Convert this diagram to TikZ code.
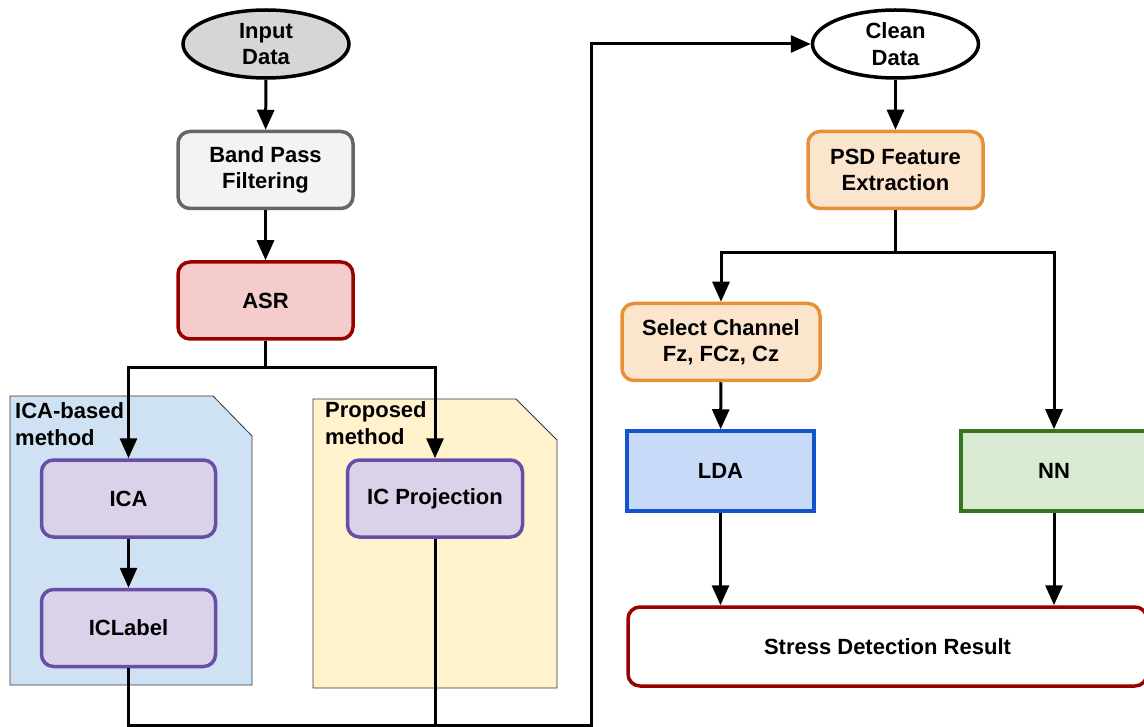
\documentclass[tikz,border=0pt]{standalone}
\usepackage{fontspec}
\setmainfont{Liberation Sans}
\usetikzlibrary{arrows.meta,shapes.geometric}

\definecolor{inputfill}{HTML}{D6D6D6}
\definecolor{bpffill}{HTML}{F3F3F3}
\definecolor{bpfline}{HTML}{666666}
\definecolor{redfill}{HTML}{F4CCCC}
\definecolor{redline}{HTML}{990000}
\definecolor{bluedoc}{HTML}{CFE2F3}
\definecolor{yellowdoc}{HTML}{FFF2CC}
\definecolor{docline}{HTML}{333333}
\definecolor{purplefill}{HTML}{D9D2E9}
\definecolor{purpleline}{HTML}{674EA7}
\definecolor{orangefill}{HTML}{FCE5CD}
\definecolor{orangeline}{HTML}{E69138}
\definecolor{ldafill}{HTML}{C9DAF8}
\definecolor{ldaline}{HTML}{1155CC}
\definecolor{nnfill}{HTML}{D9EAD3}
\definecolor{nnline}{HTML}{38761D}

\tikzset{
  txt/.style={font=\fontsize{22}{26.5}\selectfont\bfseries, align=center, inner sep=0pt},
  terminal/.style={txt, ellipse, draw=black, line width=3.5pt, minimum width=166pt, minimum height=68pt},
  roundbox/.style={txt, rectangle, rounded corners=12pt, line width=3.5pt, minimum height=77pt},
  sharpbox/.style={txt, rectangle, line width=3.5pt, minimum height=80pt},
  doclabel/.style={font=\fontsize{22}{27}\selectfont\bfseries, align=left, inner sep=0pt, anchor=north west},
  docshape/.style={draw=docline, line width=0.8pt},
  link/.style={line width=3pt, draw=black},
  arr/.style={link, -{Triangle[length=20pt,width=17pt]}},
}

\begin{document}
\begin{tikzpicture}[x=1pt,y=-1pt]
  \path[use as bounding box] (0,0) rectangle (1144,727);

  % method containers (folded-corner sheets)
  \fill[bluedoc] (10,396) -- (213,396) -- (252,436) -- (252,685) -- (10,685) -- cycle;
  \draw[docshape] (10,396) -- (213,396) -- (252,436) -- (252,685) -- (10,685) -- cycle;
  \fill[yellowdoc] (313,399) -- (516,399) -- (557,440) -- (557,688) -- (313,688) -- cycle;
  \draw[docshape] (313,399) -- (516,399) -- (557,440) -- (557,688) -- (313,688) -- cycle;
  \node[doclabel] (lblica) at (15,402) {ICA-based\\method};
  \node[doclabel] (lblprop) at (325,401) {Proposed\\method};

  % preprocessing chain
  \node[terminal, fill=inputfill] (input) at (266,44) {Input\\Data};
  \node[roundbox, fill=bpffill, draw=bpfline, minimum width=175pt] (bpf) at (265.5,170) {Band Pass\\Filtering};
  \node[roundbox, fill=redfill, draw=redline, minimum width=175pt] (asr) at (265.5,300.5) {ASR};

  % artifact removal variants
  \node[roundbox, fill=purplefill, draw=purpleline, minimum width=174pt] (ica) at (128.5,498.5) {ICA};
  \node[roundbox, fill=purplefill, draw=purpleline, minimum width=174pt] (iclabel) at (128.5,628) {ICLabel};
  \node[roundbox, fill=purplefill, draw=purpleline, minimum width=175pt] (icp) at (435,498.5) {IC Projection};

  % feature extraction and classification
  \node[terminal, fill=white] (clean) at (895.5,44) {Clean\\Data};
  \node[roundbox, fill=orangefill, draw=orangeline, minimum width=175pt] (psd) at (895.5,170) {PSD Feature\\Extraction};
  \node[roundbox, fill=orangefill, draw=orangeline, minimum width=198pt] (sel) at (721,342) {Select Channel\\Fz, FCz, Cz};
  \node[sharpbox, fill=ldafill, draw=ldaline, minimum width=187pt] (lda) at (720.5,471) {LDA};
  \node[sharpbox, fill=nnfill, draw=nnline, minimum width=186pt] (nn) at (1054,471) {NN};
  \node[roundbox, fill=white, draw=redline, minimum width=519pt, minimum height=79pt] (stress) at (887.5,646.5) {Stress Detection Result};

  % routing points
  \coordinate (asrsplit) at (265.5,368);
  \coordinate (psdsplit) at (895.5,253);
  \coordinate (loopR) at (591,725);

  % connectors
  \draw[arr] (input) -- (bpf);
  \draw[arr] (bpf) -- (asr);
  \draw[link] (asr.south) -- (asrsplit);
  \draw[arr] (asrsplit) -| (ica.north);
  \draw[arr] (asrsplit) -| (icp.north);
  \draw[arr] (ica) -- (iclabel);
  \draw[link] (icp.south) -- (icp.south |- loopR);
  \draw[arr] (iclabel.south) |- (loopR) |- (clean.west);
  \draw[arr] (clean) -- (psd);
  \draw[link] (psd.south) -- (psdsplit);
  \draw[arr] (psdsplit) -| (sel.north);
  \draw[arr] (psdsplit) -| (nn.north);
  \draw[arr] (sel) -- (lda);
  \draw[arr] (lda.south) -- (lda.south |- stress.north);
  \draw[arr] (nn.south) -- (nn.south |- stress.north);
\end{tikzpicture}
\end{document}
